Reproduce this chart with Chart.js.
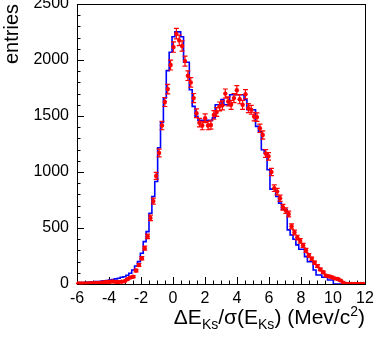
<!DOCTYPE html>
<html>
<head>
<meta charset="utf-8">
<script src="https://cdn.jsdelivr.net/npm/chart.js@4/dist/chart.umd.min.js"></script>
<style>
  body { margin: 0; background: #fff; }
  #wrap { position: relative; width: 374px; height: 338px; }
  #xtitle {
    position: absolute; right: 9px; top: 305px;
    font-family: 'Liberation Sans', Arial, sans-serif; font-size: 21px;
    line-height: 24px; white-space: nowrap; color: #000;
  }
  #xtitle sub, #xtitle sup { font-size: 14px; line-height: 0; }
</style>
</head>
<body>
<div id="wrap">
  <canvas id="c" width="374" height="338"></canvas>
  <div id="xtitle">&Delta;E<sub>Ks</sub>/&sigma;(E<sub>Ks</sub>) (Mev/c<sup>2</sup>)</div>
</div>
<script>
// binning: 100 bins from -6 to 12
const xMin = -6;
const xMax = 12;
const binWidth = 0.18;

// red points (data), one per bin
const dataCounts = [
    5, 4, 6, 5, 8, 7, 9, 10, 12, 15,
    18, 20, 22, 18, 18, 20, 24, 42, 57, 65,
    120, 170, 230, 320, 425, 590, 740, 965, 1170, 1415,
    1625, 1740, 1955, 2115, 2235, 2175, 2125, 1990, 1860, 1800,
    1660, 1525, 1440, 1415, 1480, 1415, 1420, 1510, 1535, 1585,
    1595, 1700, 1630, 1600, 1660, 1730, 1650, 1600, 1695, 1570,
    1555, 1495, 1490, 1390, 1330, 1165, 1140, 1000, 855, 825,
    765, 685, 655, 625, 515, 460, 415, 385, 345, 300,
    255, 225, 190, 160, 130, 105, 75, 68, 60, 50,
    45, 32, 12, 0, 0, 0, 0, 0, 0, 0
];

// blue histogram (MC), one per bin
const mcCounts = [
    12, 13, 14, 16, 18, 20, 21, 22, 25, 28,
    31, 35, 40, 46, 52, 60, 65, 78, 96, 125,
    161, 200, 275, 378, 468, 632, 781, 915, 1216, 1443,
    1661, 1905, 2069, 2207, 2251, 2251, 2207, 1980, 1980, 1735,
    1586, 1497, 1461, 1461, 1461, 1461, 1461, 1483, 1601, 1601,
    1646, 1601, 1601, 1690, 1690, 1690, 1690, 1690, 1646, 1556,
    1556, 1556, 1407, 1362, 1199, 1169, 1020, 847, 847, 781,
    722, 668, 668, 483, 438, 400, 349, 310, 310, 244,
    199, 199, 125, 80, 80, 60, 60, 36, 36, 0,
    0, 0, 0, 0, 0, 0, 0, 0, 0, 0
];

const xTicks = [-6, -4, -2, 0, 2, 4, 6, 8, 10, 12];
const yTicks = [0, 500, 1000, 1500, 2000, 2500];

const fontFamily = "'Liberation Sans', Arial, sans-serif";

// step line: left edge of each bin, plus closing point
const mcPoints = mcCounts.map((v, i) => ({ x: xMin + i * binWidth, y: v }));
mcPoints.push({ x: xMin + mcCounts.length * binWidth, y: mcCounts[mcCounts.length - 1] });

const dataPoints = dataCounts.map((v, i) => ({ x: xMin + (i + 0.5) * binWidth, y: v }));

// frame + inward ticks like ROOT
const framePlugin = {
    id: 'frame',
    beforeDatasetsDraw(chart) {
        const { ctx, chartArea: a, scales } = chart;
        ctx.save();
        ctx.strokeStyle = '#000';
        ctx.lineWidth = 1;
        ctx.beginPath();
        for (let i = 0; i <= 36; i++) {
            const px = Math.round(scales.x.getPixelForValue(xMin + i * 0.5)) + 0.5;
            const len = i % 4 === 0 ? 7 : 3.5;
            ctx.moveTo(px, a.bottom);
            ctx.lineTo(px, a.bottom - len);
        }
        for (let i = 0; i <= 25; i++) {
            const py = Math.round(scales.y.getPixelForValue(i * 100)) + 0.5;
            const len = i % 5 === 0 ? 7 : 3.5;
            ctx.moveTo(a.left, py);
            ctx.lineTo(a.left + len, py);
        }
        ctx.stroke();
        ctx.strokeRect(Math.round(a.left) + 0.5, Math.round(a.top) + 0.5,
            Math.round(a.right - a.left), Math.round(a.bottom - a.top));
        ctx.restore();
    }
};

// sqrt(N) error bars on the red points
const errorBarPlugin = {
    id: 'errorBars',
    afterDatasetsDraw(chart) {
        const { ctx, scales } = chart;
        const meta = chart.getDatasetMeta(0);
        ctx.save();
        ctx.strokeStyle = '#ff0000';
        ctx.lineWidth = 1.2;
        ctx.beginPath();
        meta.data.forEach((pt, i) => {
            const v = dataCounts[i];
            const e = Math.sqrt(v);
            if (e <= 0) return;
            const y1 = scales.y.getPixelForValue(v + e);
            const y2 = scales.y.getPixelForValue(v - e);
            ctx.moveTo(pt.x, y1);
            ctx.lineTo(pt.x, y2);
            ctx.moveTo(pt.x - 2.5, y1);
            ctx.lineTo(pt.x + 2.5, y1);
            ctx.moveTo(pt.x - 2.5, y2);
            ctx.lineTo(pt.x + 2.5, y2);
        });
        ctx.stroke();
        ctx.restore();
    }
};

new Chart(document.getElementById('c'), {
    type: 'scatter',
    data: {
        datasets: [
            {
                label: 'data',
                data: dataPoints,
                backgroundColor: '#ff0000',
                borderColor: '#ff0000',
                pointRadius: 2.2,
                pointBorderWidth: 0,
                showLine: false,
                order: 0
            },
            {
                label: 'MC',
                data: mcPoints,
                borderColor: '#0000ff',
                borderWidth: 1.6,
                pointRadius: 0,
                showLine: true,
                stepped: true,
                fill: false,
                order: 1
            }
        ]
    },
    options: {
        responsive: false,
        animation: false,
        devicePixelRatio: 1,
        layout: { padding: { top: 4, right: 9, left: 0, bottom: 0 } },
        plugins: {
            legend: { display: false },
            tooltip: { enabled: false }
        },
        scales: {
            x: {
                type: 'linear',
                min: xMin,
                max: xMax,
                afterFit: s => {
                    s.height = 54;
                    s.paddingLeft = 0;
                    s.paddingRight = 0;
                },
                afterBuildTicks: s => { s.ticks = xTicks.map(v => ({ value: v })); },
                grid: { display: false, drawTicks: false },
                border: { display: false },
                ticks: {
                    autoSkip: false,
                    maxRotation: 0,
                    padding: 5,
                    color: '#000',
                    font: { family: fontFamily, size: 16 },
                    callback: v => String(v)
                }
            },
            y: {
                type: 'linear',
                min: 0,
                max: 2500,
                afterFit: s => {
                    s.width = 77;
                    s.paddingTop = 0;
                    s.paddingBottom = 0;
                },
                afterBuildTicks: s => { s.ticks = yTicks.map(v => ({ value: v })); },
                grid: { display: false, drawTicks: false },
                border: { display: false },
                ticks: {
                    autoSkip: false,
                    padding: 8,
                    color: '#000',
                    font: { family: fontFamily, size: 16 },
                    callback: v => String(v)
                },
                title: {
                    display: true,
                    text: 'entries',
                    align: 'end',
                    color: '#000',
                    font: { family: fontFamily, size: 20 },
                    padding: { top: 0, bottom: 0 }
                }
            }
        }
    },
    plugins: [framePlugin, errorBarPlugin]
});
</script>
</body>
</html>
